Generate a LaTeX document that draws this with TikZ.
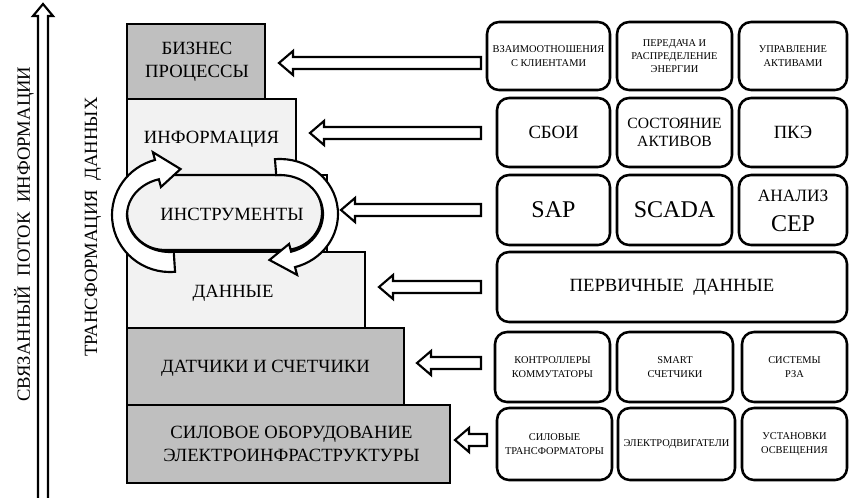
\documentclass[tikz,border=0pt]{standalone}
\usepackage{fontspec}
\setmainfont{Liberation Serif}
\usetikzlibrary{calc,fit}

\definecolor{levelgray}{HTML}{BFBFBF}
\definecolor{levellight}{HTML}{F2F2F2}

% hollow block arrow pointing left: #1 = tip, #2 = right end (same height)
\newcommand\feedarrow[2]{%
  \draw[hollow] (#1) -- ($(#1)+(14,-12)$) -- ($(#1)+(14,-6)$) -- ($(#2)+(0,-6)$)
    -- ($(#2)+(0,6)$) -- ($(#1)+(14,6)$) -- ($(#1)+(14,12)$) -- cycle;}

\begin{document}
\begin{tikzpicture}[x=0.75pt,y=-0.75pt,
  every node/.style={inner sep=0pt,outer sep=0pt},
  level/.style={draw,line width=1.7pt,fill=#1},
  level/.default=levelgray,
  biglabel/.style={align=center,font=\fontsize{14}{17}\selectfont},
  rbox/.style={draw,line width=1.9pt,rounded corners=9pt,fill=white},
  small/.style={align=center,font=\fontsize{7.8}{10}\selectfont},
  medium/.style={align=center,font=\fontsize{14}{17}\selectfont},
  large/.style={align=center,font=\fontsize{18}{22}\selectfont},
  hollow/.style={draw,line width=1.6pt,fill=white,line join=miter},
  cyclearrow/.style={draw,line width=1.6pt,fill=white,line join=miter}]

\useasboundingbox (0,0) rectangle (849,497);

% vertical flow arrow and side captions
\draw[hollow] (38,500) -- (38,16) -- (33,16) -- (43,4) -- (53,16) -- (48,16) -- (48,500);
\node[rotate=90,font=\fontsize{14}{16}\selectfont] (flow) at (24,234) {СВЯЗАННЫЙ \ ПОТОК \ ИНФОРМАЦИИ};
\node[rotate=90,font=\fontsize{14}{16}\selectfont] (transf) at (93,227) {ТРАНСФОРМАЦИЯ \ ДАННЫХ};

% stepped levels
\node[level,fit={(127,24) (265,99)}] (bp) {};
\node[level=levellight,fit={(127,99) (296,175)}] (info) {};
\node[level=levellight,fit={(127,175) (327,252)}] (instr) {};
\node[level=levellight,fit={(127,252) (365,328)}] (data) {};
\node[level,fit={(127,328) (404,405)}] (sens) {};
\node[level,fit={(127,405) (450,483)}] (power) {};
\node[biglabel] (bplbl) at ($(bp.center)+(1,0)$) {БИЗНЕС\\ПРОЦЕССЫ};
\node[biglabel] (infolbl) at ($(info.center)+(0,2)$) {ИНФОРМАЦИЯ};
\node[biglabel] (datalbl) at (233,293) {ДАННЫЕ};
\node[biglabel] (senslbl) at ($(sens.center)+(0,2)$) {ДАТЧИКИ И СЧЕТЧИКИ};
\node[biglabel] (powerlbl) at ($(power.center)+(3,0)$) {СИЛОВОЕ ОБОРУДОВАНИЕ\\ЭЛЕКТРОИНФРАСТРУКТУРЫ};

% tools: rounded capsule with circulating arrows
\node[level=levellight,rounded corners=28pt,fit={(127,175) (322,250)}] (tools) {};
\coordinate (lc) at (170,215);
\coordinate (rc) at (280,214);
\draw[cyclearrow] ($(lc)+(85:58 and 57)$) arc[start angle=85,end angle=255,x radius=58,y radius=57]
  -- ($(lc)+(255:66 and 65)$) -- ($(lc)+(282:50.5 and 47)$) -- ($(lc)+(255:35 and 29)$)
  -- ($(lc)+(255:43 and 37)$) arc[start angle=255,end angle=85,x radius=43,y radius=37] -- cycle;
\draw[cyclearrow] ($(rc)+(265:58 and 55)$) arc[start angle=265,end angle=435,x radius=58,y radius=55]
  -- ($(rc)+(75:66 and 63)$) -- ($(rc)+(102:50.5 and 47)$) -- ($(rc)+(75:35 and 31)$)
  -- ($(rc)+(75:43 and 39)$) arc[start angle=435,end angle=265,x radius=43,y radius=39] -- cycle;
\node[biglabel] (toolslbl) at (232,214) {ИНСТРУМЕНТЫ};

% sources, row by row
\node[rbox,fit={(487,22) (610,90)}] (r11) {};
\node[rbox,fit={(617,22) (732,90)}] (r12) {};
\node[rbox,fit={(739,22) (847,90)}] (r13) {};
\node[small] at (r11) {ВЗАИМООТНОШЕНИЯ\\С КЛИЕНТАМИ};
\node[small] at (r12) {ПЕРЕДАЧА И\\РАСПРЕДЕЛЕНИЕ\\ЭНЕРГИИ};
\node[small] at (r13) {УПРАВЛЕНИЕ\\АКТИВАМИ};

\node[rbox,fit={(497,98) (610,167)}] (r21) {};
\node[rbox,fit={(617,98) (732,167)}] (r22) {};
\node[rbox,fit={(739,98) (847,167)}] (r23) {};
\node[medium] at (r21) {СБОИ};
\node[align=center,font=\fontsize{11.7}{14}\selectfont] at (r22) {СОСТОЯНИЕ\\АКТИВОВ};
\node[medium] at (r23) {ПКЭ};

\node[rbox,fit={(497,175) (610,245)}] (r31) {};
\node[rbox,fit={(617,175) (732,245)}] (r32) {};
\node[rbox,fit={(739,175) (847,245)}] (r33) {};
\node[large] at (r31) {SAP};
\node[large] at (r32) {SCADA};
\node[large] at ($(r33)+(0,1)$) {{\fontsize{13}{15}\selectfont АНАЛИЗ}\\СЕР};

\node[rbox,fit={(497,252) (847,322)}] (r4) {};
\node[medium] at (r4) {ПЕРВИЧНЫЕ \ ДАННЫЕ};

\node[rbox,fit={(495,332) (610,402)}] (r51) {};
\node[rbox,fit={(617,332) (733,402)}] (r52) {};
\node[rbox,fit={(742,332) (847,402)}] (r53) {};
\node[small] at (r51) {КОНТРОЛЛЕРЫ\\КОММУТАТОРЫ};
\node[small] at (r52) {SMART\\СЧЕТЧИКИ};
\node[small] at (r53) {СИСТЕМЫ\\РЗА};

\node[rbox,fit={(497,408) (612,480)}] (r61) {};
\node[rbox,fit={(618,408) (735,480)}] (r62) {};
\node[rbox,fit={(742,408) (847,480)}] (r63) {};
\node[small] at (r61) {СИЛОВЫЕ\\ТРАНСФОРМАТОРЫ};
\node[small] at (r62) {ЭЛЕКТРОДВИГАТЕЛИ};
\node[small] at (r63) {УСТАНОВКИ\\ОСВЕЩЕНИЯ};

% feed arrows from sources to levels
\coordinate (a1tip) at (279,63);  \coordinate (a1end) at (481,63);
\coordinate (a2tip) at (310,133); \coordinate (a2end) at (481,133);
\coordinate (a3tip) at (341,210); \coordinate (a3end) at (481,210);
\coordinate (a4tip) at (379,287); \coordinate (a4end) at (481,287);
\coordinate (a5tip) at (417,363); \coordinate (a5end) at (481,363);
\coordinate (a6tip) at (455,440); \coordinate (a6end) at (487,440);
\feedarrow{a1tip}{a1end}
\feedarrow{a2tip}{a2end}
\feedarrow{a3tip}{a3end}
\feedarrow{a4tip}{a4end}
\feedarrow{a5tip}{a5end}
\feedarrow{a6tip}{a6end}
\end{tikzpicture}
\end{document}
